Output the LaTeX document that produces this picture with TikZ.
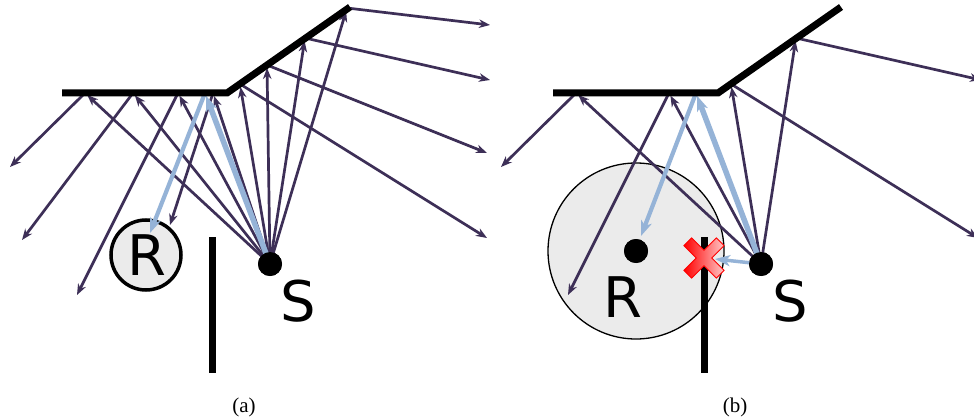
\documentclass[tikz,border=0pt]{standalone}
\usepackage{fontspec}
\setmainfont{Liberation Serif}
\newfontfamily\lblfont{DejaVu Sans}
\usetikzlibrary{arrows.meta}
\definecolor{raycol}{HTML}{3D2F57}
\definecolor{bluecol}{HTML}{95B3D7}
\definecolor{fillgray}{HTML}{EBEBEB}
\begin{document}
\begin{tikzpicture}[x=1pt,y=-1pt,
  ray/.style={draw=raycol, line width=2.7pt, -{Stealth[length=11pt,width=8.5pt,inset=3.5pt]}},
  tomirror/.style={ray, shorten >=3pt},
  bray/.style={draw=bluecol, line width=4.2pt, -{Stealth[length=15pt,width=11pt,inset=4pt]}},
  bin/.style={bray, line width=5.5pt, shorten >=3pt},
  mirror/.style={draw=black, line width=7pt},
  wall/.style={draw=black, line width=7pt},
  dot/.style={circle, fill=black, minimum size=24pt, inner sep=0pt},
  lbl/.style={font=\lblfont\fontsize{56}{56}\selectfont, inner sep=0pt, anchor=base},
  captxt/.style={font=\fontsize{21}{21}\selectfont, inner sep=0pt, anchor=base},
  xmark/.style={left color=red, right color=red!22, draw=red, line width=0.8pt, line join=miter}
]
\clip (0,0) rectangle (974,417);
\fill[white] (0,0) rectangle (974,417);

% ================= Panel (a) =================
\node[circle, fill=fillgray, draw=black, line width=3.5pt, minimum size=70pt, inner sep=0pt] (aRc) at (146,255) {};
\node[dot] (aS) at (270,264) {};
\coordinate (aH1) at (85,93);
\coordinate (aH2) at (133,93);
\coordinate (aH3) at (178,93);
\coordinate (aH4) at (213,93);
\coordinate (aHB) at (205,93);
\coordinate (aD1) at (240,84);
\coordinate (aD2) at (267,65);
\coordinate (aD3) at (305,38);
\coordinate (aD4) at (347,8);
\coordinate (aE1) at (10,167);
\coordinate (aE2) at (22,240);
\coordinate (aE3) at (77,295);
\coordinate (aE4) at (170,225);
\coordinate (aF1) at (487,238);
\coordinate (aF2) at (487,153);
\coordinate (aF3) at (490,80);
\coordinate (aF4) at (490,25);
\coordinate (aEB) at (150,233);
\coordinate (aM1) at (62,93);
\coordinate (aM2) at (227,93);
\coordinate (aM3) at (350,7);
\coordinate (aW1) at (212,237);
\coordinate (aW2) at (212,373);

\foreach \p in {aH1,aH2,aH3,aH4,aD1,aD2,aD3,aD4}
  \draw[tomirror] (aS.center) -- (\p);
\draw[ray] (aH1) -- (aE1);
\draw[ray] (aH2) -- (aE2);
\draw[ray] (aH3) -- (aE3);
\draw[ray] (aH4) -- (aE4);
\draw[ray] (aD1) -- (aF1);
\draw[ray] (aD2) -- (aF2);
\draw[ray] (aD3) -- (aF3);
\draw[ray] (aD4) -- (aF4);
\draw[bin] (aS.center) -- (aHB);
\draw[bray] (aHB) -- (aEB);
\draw[mirror] (aM1) -- (aM2) -- (aM3);
\draw[wall] (aW1) -- (aW2);
\node[dot] at (aS) {};
\node[lbl] (aRl) at (147,275) {R};
\node[lbl] (aSl) at (298,321) {S};
\node[captxt] (capa) at (244,412) {(a)};

% ================= Panel (b) =================
\node[circle, fill=fillgray, draw=black, line width=1.3pt, minimum size=176pt, inner sep=0pt] (bZone) at (636,251) {};
\node[dot] (bR) at (636,251) {};
\node[dot] (bS) at (761,264) {};
\coordinate (bH1) at (576,93);
\coordinate (bH3) at (669,93);
\coordinate (bHB) at (696,93);
\coordinate (bD1) at (731,84);
\coordinate (bD3) at (796,38);
\coordinate (bE1) at (501,167);
\coordinate (bE3) at (568,295);
\coordinate (bF1) at (978,238);
\coordinate (bF3) at (981,80);
\coordinate (bEB) at (641,236);
\coordinate (bX) at (715,259);
\coordinate (bM1) at (553,93);
\coordinate (bM2) at (718,93);
\coordinate (bM3) at (841,7);
\coordinate (bW1) at (704,237);
\coordinate (bW2) at (704,373);

\foreach \p in {bH1,bH3,bD1,bD3}
  \draw[tomirror] (bS.center) -- (\p);
\draw[ray] (bH1) -- (bE1);
\draw[ray] (bH3) -- (bE3);
\draw[ray] (bD1) -- (bF1);
\draw[ray] (bD3) -- (bF3);
\draw[bin] (bS.center) -- (bHB);
\draw[bray] (bHB) -- (bEB);
\draw[bray, line width=3.5pt] (bS.center) -- (bX);
\draw[mirror] (bM1) -- (bM2) -- (bM3);
\draw[wall] (bW1) -- (bW2);
\begin{scope}[shift={(704,258)}]
\shade[xmark] (0,7.78) -- (12.37,20.15) -- (20.15,12.37) -- (7.78,0) -- (20.15,-12.37)
  -- (12.37,-20.15) -- (0,-7.78) -- (-12.37,-20.15) -- (-20.15,-12.37) -- (-7.78,0)
  -- (-20.15,12.37) -- (-12.37,20.15) -- cycle;
\end{scope}
\node[dot] at (bS) {};
\node[dot] at (bR) {};
\node[lbl] (bRl) at (623,317) {R};
\node[lbl] (bSl) at (790,321) {S};
\node[captxt] (capb) at (735,412) {(b)};
\end{tikzpicture}
\end{document}
